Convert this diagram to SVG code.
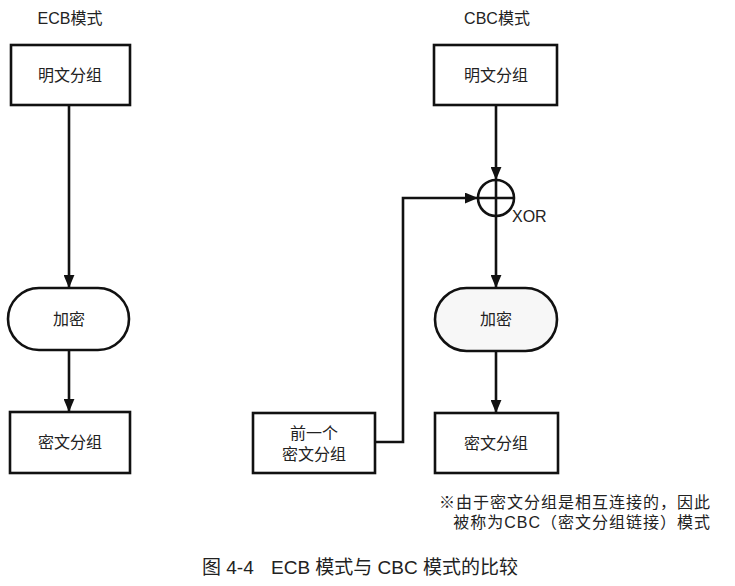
<svg xmlns="http://www.w3.org/2000/svg" width="735" height="586" viewBox="0 0 735 586">
<style>
.box{fill:#fff;stroke:#111;stroke-width:2.6}
.enc{fill:#f7f7f7;stroke:#111;stroke-width:2.6}
.ln{fill:none;stroke:#111;stroke-width:2.6}
text{font-family:"Liberation Sans","Noto Sans CJK SC",sans-serif;fill:#222}
.lb{font-size:16px;text-anchor:middle}
.t{font-size:16px;text-anchor:middle}
.note{font-size:16px;text-anchor:end;letter-spacing:1px}
.cap{font-size:19px}
</style>
<defs>
<marker id="a" viewBox="0 0 12 10" refX="12" refY="5" markerWidth="13" markerHeight="11" markerUnits="userSpaceOnUse" orient="auto">
<path d="M0,0 L12,5 L0,10 z" fill="#111"/>
</marker>
</defs>
<rect width="735" height="586" fill="#fff"/>
<text class="t" x="70" y="24">ECB模式</text>
<text class="t" x="497" y="24">CBC模式</text>
<g id="connectors">
<line class="ln" x1="69" y1="105" x2="69" y2="288" marker-end="url(#a)"/>
<line class="ln" x1="69" y1="350" x2="69" y2="412" marker-end="url(#a)"/>
<line class="ln" x1="496" y1="105" x2="496" y2="180" marker-end="url(#a)"/>
<line class="ln" x1="496" y1="216" x2="496" y2="288" marker-end="url(#a)"/>
<line class="ln" x1="496" y1="351" x2="496" y2="413" marker-end="url(#a)"/>
<polyline class="ln" points="375,442 403,442 403,198 478,198" marker-end="url(#a)"/>
</g>
<g id="ecb-plain"><rect class="box" x="11" y="45" width="119" height="60"/><text class="lb" x="70" y="81">明文分组</text></g>
<g id="ecb-enc"><rect class="box" x="8" y="288" width="121" height="62" rx="31"/><text class="lb" x="69" y="325">加密</text></g>
<g id="ecb-cipher"><rect class="box" x="10" y="412" width="120" height="61"/><text class="lb" x="70" y="448">密文分组</text></g>
<g id="cbc-plain"><rect class="box" x="434" y="45" width="123" height="60"/><text class="lb" x="496" y="81">明文分组</text></g>
<g id="xor"><circle class="ln" cx="496" cy="198" r="18"/><line class="ln" x1="478" y1="198" x2="514" y2="198"/><line class="ln" x1="496" y1="180" x2="496" y2="216"/><text x="512" y="222" style="font-size:16px">XOR</text></g>
<g id="cbc-enc"><rect class="enc" x="435" y="288" width="122" height="63" rx="31.5"/><text class="lb" x="496" y="325">加密</text></g>
<g id="cbc-cipher"><rect class="box" x="435" y="413" width="123" height="60"/><text class="lb" x="496" y="449">密文分组</text></g>
<g id="prev-cipher"><rect class="box" x="253" y="413" width="122" height="60"/><text class="lb" x="314" y="439">前一个</text><text class="lb" x="314" y="460">密文分组</text></g>
<text class="note" x="711" y="508">※由于密文分组是相互连接的，因此</text>
<text class="note" x="711" y="528">被称为CBC（密文分组链接）模式</text>
<text class="cap" y="574"><tspan x="202">图 4-4</tspan><tspan x="271">ECB 模式与 CBC 模式的比较</tspan></text>
</svg>
